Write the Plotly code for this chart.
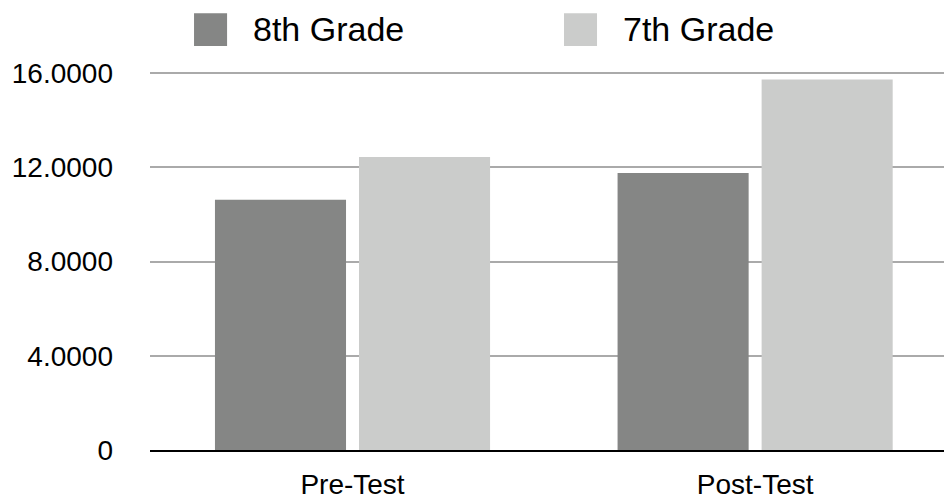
import plotly.graph_objects as go

categories = ["Pre-Test", "Post-Test"]
series_names = ["8th Grade", "7th Grade"]
grade8_values = [10.62, 11.76]
grade7_values = [12.44, 15.73]
series_colors = ["#858685", "#cbcccb"]
tick_values = [0, 4, 8, 12, 16]
tick_labels = ["0", "4.0000", "8.0000", "12.0000", "16.0000"]

FONT = "Liberation Sans, Arial, Helvetica, sans-serif"

fig = go.Figure()
for name, vals, col in zip(series_names, [grade8_values, grade7_values], series_colors):
    fig.add_trace(go.Bar(x=categories, y=vals, name=name, marker=dict(color=col, line=dict(width=0)),
                         showlegend=False))

# custom legend (large swatches)
legend_x = [0.0549, 0.5162]
for lx, name, col in zip(legend_x, series_names, series_colors):
    fig.add_shape(type="rect", xref="paper", yref="paper", x0=lx, x1=lx + 0.0412,
                  y0=1.0357, y1=1.1199, fillcolor=col, line=dict(width=0))
    fig.add_annotation(xref="paper", yref="paper", x=lx + 0.0705, y=1.079, text=name,
                       showarrow=False, xanchor="left", yanchor="middle",
                       font=dict(family=FONT, size=34, color="black"))

fig.update_layout(
    width=944, height=492,
    margin=dict(l=142, r=0, t=52, b=40),
    paper_bgcolor="white", plot_bgcolor="white",
    barmode="group", bargap=0.2845, bargroupgap=0.09,
    font=dict(family=FONT, size=28, color="black"),
)
fig.update_xaxes(range=[-0.503, 1.489], showgrid=False, showline=True, linecolor="black",
                 linewidth=2, ticks="", tickfont=dict(size=28, color="black"),
                 ticklabelstandoff=8, fixedrange=True)
fig.update_yaxes(range=[0, 16.557], tickvals=tick_values, ticktext=tick_labels,
                 showgrid=True, gridcolor="#aaaaaa", gridwidth=2, zeroline=False,
                 showline=False, ticks="", tickfont=dict(size=28, color="black"),
                 ticklabelstandoff=36, fixedrange=True)

fig.write_html("out.html")
